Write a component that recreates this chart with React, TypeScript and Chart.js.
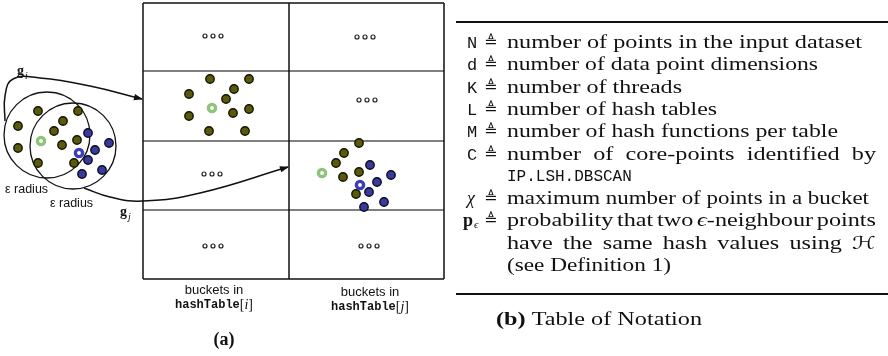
import React, { useEffect, useRef } from 'react';
import { Chart, registerables } from 'chart.js';
Chart.register(...registerables);

// ---------- data (diagram coordinates: x 0..888, y 0..356 downward) ----------
const oliveLeft = [[38, 111], [78, 111], [18, 126], [63, 121], [54, 131], [77, 140], [18, 148], [62, 145], [38, 163], [74, 163]];
const blueLeft = [[88, 133], [109, 143], [95, 150], [88, 160], [82, 174], [102, 170]];
const oliveBucketI = [[210, 79], [249, 79], [234, 89], [189, 94], [226, 99], [249, 109], [189, 116], [233, 113], [209, 131], [245, 131]];
const oliveBucketJ = [[359, 143], [344, 153], [336, 163], [359, 172], [343, 177], [356, 194]];
const blueBucketJ = [[370, 165], [391, 175], [377, 182], [369, 192], [384, 202], [364, 207]];
const greenCore = [[41, 141], [212, 108], [322, 173]];
const blueCore = [[79, 153], [360, 185]];
const epsCircles = [[47, 135], [73, 146]];
const ellipsisDots = [
  [205, 36], [213, 36], [221, 36],
  [357, 37], [365, 37], [373, 37],
  [359, 100], [367, 100], [375, 100],
  [204, 174], [212, 174], [220, 174],
  [205, 246], [213, 246], [221, 246],
  [361, 246], [369, 246], [377, 246],
];
const gridCols = [143, 289, 444];
const gridRows = [3, 71, 141, 210, 279];
const curveGi = [[5, 121], [5, 96], [13, 79], [40, 78], [90, 86], [142, 99]];
const curveGj = [[84, 188], [110, 197], [143, 201], [200, 193], [288, 167]];

const notationSymbols = ['N', 'd', 'K', 'L', 'M', 'C', 'χ', 'p'];
const notationTexts = [
  'number of points in the input dataset',
  'number of data point dimensions',
  'number of threads',
  'number of hash tables',
  'number of hash functions per table',
  'number of core-points identified by',
];
const algoName = 'IP.LSH.DBSCAN';
const chiText = 'maximum number of points in a bucket';
const pText1 = ['probability', 'that', 'two', 'ϵ-neighbour', 'points'];
const pText2 = ['have', 'the', 'same', 'hash', 'values', 'using'];
const pText3 = '(see Definition 1)';

// ---------- styles ----------
const SERIF = '"Liberation Serif", "DejaVu Serif", serif';
const SANS = '"Liberation Sans", Arial, sans-serif';
const MONO = '"Liberation Mono", "DejaVu Sans Mono", monospace';
const BODY = `18px ${SERIF}`;
const OLIVE = '#5b590e';
const BLUE = '#3a3a9e';
const GREEN = '#8cc47a';
const RING_BLUE = '#3d3db8';

const xy = (a: number[][]) => a.map(([x, y]) => ({ x, y }));

type Piece = { t: string; f: string; dy?: number };
type Word = Piece[];

const diagramPlugin = {
  id: 'diagramText',
  afterDatasetsDraw(chart: any) {
    const ctx: CanvasRenderingContext2D = chart.ctx;
    const X = (v: number) => chart.scales.x.getPixelForValue(v);
    const Y = (v: number) => chart.scales.y.getPixelForValue(v);
    ctx.save();

    // arrowheads at the end of both curves
    chart.data.datasets.forEach((ds: any, i: number) => {
      if (!ds.arrow) return;
      const pts = chart.getDatasetMeta(i).data;
      const last = pts[pts.length - 1];
      const px = last.cp1x ?? pts[pts.length - 2].x;
      const py = last.cp1y ?? pts[pts.length - 2].y;
      const ang = Math.atan2(last.y - py, last.x - px);
      ctx.save();
      ctx.translate(last.x, last.y);
      ctx.rotate(ang);
      ctx.fillStyle = '#111';
      ctx.beginPath();
      ctx.moveTo(1, 0);
      ctx.lineTo(-8, -3.2);
      ctx.lineTo(-8, 3.2);
      ctx.closePath();
      ctx.fill();
      ctx.restore();
    });

    ctx.fillStyle = '#111';
    ctx.textBaseline = 'middle';

    // ---- left diagram labels ----
    ctx.textAlign = 'left';
    ctx.font = `12.5px ${SANS}`;
    ctx.fillText('ε radius', X(5), Y(190));
    ctx.fillText('ε radius', X(50), Y(204));
    ctx.font = `bold 14px ${SERIF}`;
    ctx.fillText('g', X(17), Y(71));
    ctx.fillText('g', X(120), Y(212));
    ctx.font = `italic 10px ${SERIF}`;
    ctx.fillText('i', X(25), Y(76));
    ctx.fillText('j', X(128), Y(217));

    ctx.textAlign = 'center';
    ctx.font = `13px ${SANS}`;
    ctx.fillText('buckets in', X(214), Y(290));
    ctx.fillText('buckets in', X(370), Y(292));
    const drawHash = (cx: number, cy: number, idx: string) => {
      ctx.font = `bold 12px ${MONO}`;
      const w1 = ctx.measureText('hashTable').width;
      ctx.font = `14px ${SERIF}`;
      const w2 = ctx.measureText('[').width;
      ctx.font = `italic 14px ${SERIF}`;
      const w3 = ctx.measureText(idx).width;
      ctx.font = `14px ${SERIF}`;
      const w4 = ctx.measureText(']').width;
      let x = X(cx) - (w1 + w2 + w3 + w4) / 2;
      ctx.textAlign = 'left';
      ctx.font = `bold 12px ${MONO}`;
      ctx.fillText('hashTable', x, Y(cy)); x += w1;
      ctx.font = `14px ${SERIF}`;
      ctx.fillText('[', x, Y(cy)); x += w2;
      ctx.font = `italic 14px ${SERIF}`;
      ctx.fillText(idx, x, Y(cy)); x += w3;
      ctx.font = `14px ${SERIF}`;
      ctx.fillText(']', x, Y(cy));
      ctx.textAlign = 'center';
    };
    drawHash(214, 305, 'i');
    drawHash(370, 307, 'j');
    ctx.font = `bold 18px ${SERIF}`;
    ctx.fillText('(a)', X(224), Y(340));

    // ---- table of notation ----
    ctx.textAlign = 'left';
    ctx.font = BODY;
    const baseSx = 355 / ctx.measureText(notationTexts[0]).width;
    let sx = baseSx;
    const wordWidth = (w: Word) => w.reduce((s, p) => { ctx.font = p.f; return s + ctx.measureText(p.t).width * sx; }, 0);
    const drawWord = (w: Word, x: number, y: number) => {
      let cx = x;
      w.forEach(p => {
        ctx.font = p.f;
        ctx.save();
        ctx.translate(cx, y + (p.dy || 0));
        ctx.scale(sx, 1);
        ctx.fillText(p.t, 0, 0);
        ctx.restore();
        cx += ctx.measureText(p.t).width * sx;
      });
    };
    const words = (s: string[] | string): Word[] =>
      (Array.isArray(s) ? s : s.split(' ')).map(t => [{ t, f: BODY }]);
    // justified line (x1 given) or natural line fitted to end at xEnd
    const drawLine = (ws: Word[], x0: number, y: number, x1?: number, xEnd?: number) => {
      ctx.font = BODY;
      const spaceRaw = ctx.measureText(' ').width;
      if (xEnd !== undefined) {
        sx = 1;
        const natural = ws.map(wordWidth).reduce((a, b) => a + b, 0) + spaceRaw * (ws.length - 1);
        sx = (xEnd - x0) / natural;
      } else {
        sx = baseSx;
      }
      const widths = ws.map(wordWidth);
      const total = widths.reduce((a, b) => a + b, 0);
      const gap = x1 !== undefined && ws.length > 1 ? (x1 - x0 - total) / (ws.length - 1) : spaceRaw * sx;
      let x = x0;
      ws.forEach((w, i) => { drawWord(w, x, y); x += widths[i] + gap; });
      sx = baseSx;
    };

    const tx = X(507);
    const rightX = X(876);
    const rowsY = [43, 65, 88, 110, 132, 155, 177, 199, 221, 244, 266];
    const lineEnds = [862, 818, 682, 717, 838];
    const symX = X(467);
    const triX = X(484);

    const drawTri = (y: number) => {
      ctx.font = `16px "DejaVu Sans", sans-serif`;
      ctx.fillText('≜', triX, Y(y));
    };

    for (let i = 0; i < 6; i++) {
      ctx.font = `17px ${MONO}`;
      ctx.fillText(notationSymbols[i], symX, Y(rowsY[i]));
      drawTri(rowsY[i]);
      if (i === 5) drawLine(words(notationTexts[i]), tx, Y(rowsY[i]), rightX);
      else drawLine(words(notationTexts[i]), tx, Y(rowsY[i]), undefined, X(lineEnds[i]));
    }
    ctx.font = `16px ${MONO}`;
    ctx.fillText(algoName, tx, Y(rowsY[6]));

    ctx.font = `italic 18px ${SERIF}`;
    ctx.fillText(notationSymbols[6], X(467), Y(rowsY[7]));
    drawTri(rowsY[7]);
    drawLine(words(chiText), tx, Y(rowsY[7]), undefined, X(869));

    ctx.font = `bold 18px ${SERIF}`;
    ctx.fillText(notationSymbols[7], X(463), Y(rowsY[8]));
    ctx.font = `italic 11px ${SERIF}`;
    ctx.fillText('ϵ', X(474), Y(rowsY[8] + 4));
    drawTri(rowsY[8]);
    const p1: Word[] = pText1.map(t => t === 'ϵ-neighbour'
      ? [{ t: 'ϵ', f: `italic 18px ${SERIF}` }, { t: '-neighbour', f: BODY }]
      : [{ t, f: BODY }]);
    drawLine(p1, tx, Y(rowsY[8]), rightX);
    const p2: Word[] = [...words(pText2), [{ t: 'ℋ', f: `italic 18px "DejaVu Serif", "DejaVu Sans", serif` }]];
    drawLine(p2, tx, Y(rowsY[9]), rightX);
    drawLine(words(pText3), tx, Y(rowsY[10]), undefined, X(671));

    // rules
    ctx.fillStyle = '#111';
    ctx.fillRect(X(456), Y(21), X(888) - X(456), 2);
    ctx.fillRect(X(456), Y(293), X(888) - X(456), 2);

    // caption
    const cap: Word[] = [[{ t: '(b)', f: `bold 18px ${SERIF}` }], ...words('Table of Notation')];
    drawLine(cap, X(496), Y(320));

    ctx.restore();
  },
};

export default function App() {
  const ref = useRef<HTMLCanvasElement>(null);
  useEffect(() => {
    const pointSet = (data: number[][], bg: string, border: string, r: number, bw: number) => ({
      data: xy(data), backgroundColor: bg, borderColor: border,
      pointRadius: r, pointBorderWidth: bw, pointHoverRadius: r, showLine: false, clip: false,
    });
    const lineSet = (data: number[][], color: string, width: number, extra: any = {}) => ({
      data: xy(data), borderColor: color, borderWidth: width, pointRadius: 0,
      showLine: true, fill: false, tension: 0, clip: false, ...extra,
    });
    const gridSets: any[] = [];
    gridCols.forEach(x => gridSets.push(lineSet([[x, gridRows[0]], [x, gridRows[gridRows.length - 1]]], '#111', 1.5)));
    gridRows.forEach((y, i) => gridSets.push(lineSet([[gridCols[0], y], [gridCols[gridCols.length - 1], y]],
      i === 0 || i === gridRows.length - 1 ? '#111' : '#555', 1.5)));

    const chart = new Chart(ref.current as HTMLCanvasElement, {
      type: 'scatter',
      data: {
        datasets: [
          pointSet(greenCore, '#ffffff', GREEN, 3.6, 3.4),
          pointSet(blueCore, '#ffffff', RING_BLUE, 3.6, 3.4),
          pointSet([...oliveLeft, ...oliveBucketI, ...oliveBucketJ], OLIVE, '#141400', 4.2, 1.4),
          pointSet([...blueLeft, ...blueBucketJ], BLUE, '#0d0d20', 4.2, 1.4),
          pointSet(ellipsisDots, '#ffffff', '#222', 2, 1.2),
          pointSet(epsCircles, 'rgba(0,0,0,0)', '#111', 43, 1.3),
          lineSet(curveGi, '#111', 1.5, { tension: 0.45, arrow: true }),
          lineSet(curveGj, '#111', 1.5, { tension: 0.45, arrow: true }),
          ...gridSets,
        ] as any,
      },
      options: {
        responsive: false,
        animation: false,
        events: [],
        layout: { padding: 0, autoPadding: false },
        plugins: { legend: { display: false }, tooltip: { enabled: false } },
        scales: {
          x: { type: 'linear', min: 0, max: 888, display: false },
          y: { type: 'linear', min: 0, max: 356, reverse: true, display: false },
        },
      } as any,
      plugins: [diagramPlugin],
    });
    return () => chart.destroy();
  }, []);
  return (
    <div style={{ position: 'absolute', left: 0, top: 0, width: 888, height: 356, background: '#fff' }}>
      <canvas ref={ref} width={888} height={356} style={{ display: 'block', width: 888, height: 356 }} />
    </div>
  );
}
